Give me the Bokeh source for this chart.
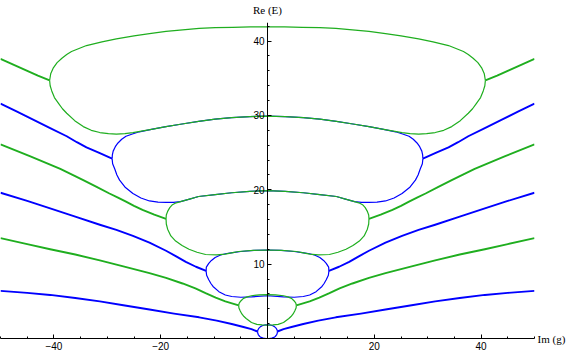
from bokeh.plotting import figure
from bokeh.models import Range1d, FixedTicker, LinearAxis
from bokeh.embed import file_html
from bokeh.resources import INLINE

# ---- data (left half, x <= 0); the chart is symmetric in Im(g) ----
# level 1 (blue)
arm1_x = [-50, -45, -40.7, -36, -31.4, -27, -22.1, -17.5, -12.8, -9.5, -6.7, -4.5, -3.0, -1.86]
arm1_y = [6.4, 6.13, 5.86, 5.45, 5.0, 4.47, 3.9, 3.35, 2.85, 2.4, 1.95, 1.55, 1.25, 0.94]
loop1_up_x = [-1.86, -1.8, -1.6, -1.3, -1.0, -0.5, 0]
loop1_up_y = [0.94, 1.15, 1.4, 1.6, 1.72, 1.82, 1.85]
loop1_lo_x = [-1.86, -1.82, -1.7, -1.45, -1.2, -0.8, -0.4, 0]
loop1_lo_y = [0.94, 0.7, 0.48, 0.27, 0.15, 0.06, 0.01, 0.0]

# level 2 (green)
arm2_x = [-50, -45, -40.7, -36, -31.4, -27, -22.1, -19, -15.9, -13.5, -11.6, -9.7, -7.9, -6.5, -5.4]
arm2_y = [13.5, 12.7, 12.0, 11.3, 10.5, 9.7, 8.8, 8.15, 7.4, 6.75, 6.1, 5.5, 5.0, 4.7, 4.45]
loop2_up_x = [-5.4, -5.3, -5.0, -4.5, -3.8, -3.0, -1.5, 0]
loop2_up_y = [4.45, 4.75, 5.05, 5.4, 5.6, 5.75, 5.88, 5.9]
loop2_lo_x = [-5.4, -5.35, -5.1, -4.8, -4.4, -4.0, -3.0, -2.0, -1.0, 0]
loop2_lo_y = [4.45, 4.1, 3.7, 3.3, 2.95, 2.7, 2.15, 1.9, 1.82, 1.8]

# level 3 (blue)
arm3_x = [-50, -45, -40.7, -36, -31.4, -28.3, -25.2, -22.1, -19.0, -17.1, -15.3, -13.4, -11.5]
arm3_y = [19.6, 18.5, 17.5, 16.4, 15.3, 14.6, 13.8, 12.9, 11.8, 11.05, 10.3, 9.65, 9.1]
loop3_up_x = [-11.5, -11.45, -11.0, -10.5, -9.8, -8.9, -7.9, -6.5, -5.0, -2.5, 0]
loop3_up_y = [9.1, 9.6, 10.1, 10.5, 10.9, 11.2, 11.4, 11.55, 11.7, 11.85, 11.9]
loop3_lo_x = [-11.5, -11.4, -11.0, -10.6, -10.2, -9.1, -7.9, -6.7, -5.0, -3.0, 0]
loop3_lo_y = [9.1, 8.5, 7.9, 7.4, 7.0, 6.3, 5.85, 5.65, 5.55, 5.6, 5.75]

# level 4 (green)
arm4_x = [-50, -44.4, -38.8, -36.6, -34.5, -32, -29.6, -28, -26.5, -25, -23.4, -21.2, -19.0]
arm4_y = [26.1, 24.5, 22.8, 22.05, 21.3, 20.4, 19.5, 18.95, 18.4, 17.85, 17.3, 16.65, 16.1]
loop4_up_x = [-19.0, -18.95, -18.7, -18.3, -17.8, -17.1, -16.3, -14.6, -12.9, -9.8, -6.7, -3.3, 0]
loop4_up_y = [16.1, 16.6, 17.1, 17.6, 18.0, 18.25, 18.4, 18.75, 19.1, 19.35, 19.6, 19.8, 19.9]
loop4_lo_x = [-19.0, -18.95, -18.7, -18.1, -17.2, -16.0, -14.7, -13.2, -11.6, -9.5, -7.9, -6.5, -5.4, -2.7, 0]
loop4_lo_y = [16.1, 15.4, 14.7, 13.8, 13.1, 12.5, 12.0, 11.6, 11.3, 11.25, 11.35, 11.55, 11.7, 11.85, 11.9]

# level 5 (blue)
arm5_x = [-50, -46.9, -43.8, -40.7, -37.6, -35.7, -33.9, -31.5, -29.1]
arm5_y = [31.6, 30.5, 29.4, 28.3, 27.2, 26.4, 25.7, 24.95, 24.2]
loop5_up_x = [-29.1, -29.05, -28.9, -28.5, -28.0, -27.3, -26.5, -25.3, -24.0, -21.5, -19.0, -16.0, -12.9, -9.8, -6.7, -3.3, 0]
loop5_up_y = [24.2, 24.7, 25.2, 25.8, 26.3, 26.8, 27.2, 27.5, 27.8, 28.15, 28.5, 28.85, 29.2, 29.5, 29.7, 29.85, 29.9]
loop5_lo_x = [-29.1, -29.0, -28.6, -28.2, -27.7, -26.6, -25.2, -23.7, -22.1, -20.5, -19.0, -17.6, -16.3, -14.6, -12.9, -9.8, -6.7, -3.3, 0]
loop5_lo_y = [24.2, 23.5, 22.8, 22.0, 21.3, 20.3, 19.5, 18.9, 18.5, 18.35, 18.3, 18.3, 18.4, 18.75, 19.1, 19.35, 19.6, 19.8, 19.9]

# level 6 (green)
arm6_x = [-50, -47.6, -45.3, -43.0, -40.8]
arm6_y = [37.6, 36.85, 36.1, 35.35, 34.7]
loop6_up_x = [-40.8, -40.6, -40.1, -39.4, -38.5, -37.6, -36.7, -35.3, -33.9, -31.0, -28.3, -25.0, -22.1, -19.0, -15.9, -12.8, -9.8, -6.5, -3.2, 0]
loop6_up_y = [34.7, 35.6, 36.4, 37.1, 37.7, 38.2, 38.6, 39.0, 39.4, 39.9, 40.3, 40.7, 41.0, 41.3, 41.5, 41.7, 41.8, 41.85, 41.9, 41.9]
loop6_lo_x = [-40.8, -40.7, -40.4, -39.9, -39.1, -38.4, -37.6, -36.1, -34.5, -33.0, -31.4, -29.8, -28.3, -26.7, -25.2, -22.0, -19.0, -16.0, -12.9, -9.8, -6.7, -3.3, 0]
loop6_lo_y = [34.7, 34.0, 33.3, 32.4, 31.6, 30.9, 30.3, 29.3, 28.5, 28.0, 27.7, 27.55, 27.5, 27.55, 27.7, 28.1, 28.5, 28.85, 29.2, 29.5, 29.7, 29.85, 29.9]

x_ticks = [-40, -20, 20, 40]
x_minor = [-50, -45, -35, -30, -25, -15, -10, -5, 0, 5, 10, 15, 25, 30, 35, 45, 50]
y_ticks = [10, 20, 30, 40]
y_minor = [2, 4, 6, 8, 12, 14, 16, 18, 22, 24, 26, 28, 32, 34, 36, 38, 42]
x_axis_name = "Im (g)"
y_axis_name = "Re (E)"

BLUE = "#0000ff"
GREEN = "#1fae1f"


def full_arc(xs, ys):
    # left half + mirrored right half (chart is symmetric about Im(g)=0)
    rx = [-v for v in reversed(xs[:-1])]
    ry = list(reversed(ys[:-1]))
    return list(xs) + rx, list(ys) + ry


def right_arm(xs, ys):
    return [-v for v in xs], list(ys)


p = figure(width=568, height=352, x_range=Range1d(-50, 50), y_range=Range1d(0, 42.5),
           output_backend="svg", toolbar_location=None,
           min_border_left=0, min_border_right=33, min_border_top=20, min_border_bottom=13)
p.grid.visible = False
p.outline_line_color = None

levels = [
    (BLUE, arm1_x, arm1_y, loop1_up_x, loop1_up_y, loop1_lo_x, loop1_lo_y),
    (BLUE, arm3_x, arm3_y, loop3_up_x, loop3_up_y, loop3_lo_x, loop3_lo_y),
    (BLUE, arm5_x, arm5_y, loop5_up_x, loop5_up_y, loop5_lo_x, loop5_lo_y),
    (GREEN, arm2_x, arm2_y, loop2_up_x, loop2_up_y, loop2_lo_x, loop2_lo_y),
    (GREEN, arm4_x, arm4_y, loop4_up_x, loop4_up_y, loop4_lo_x, loop4_lo_y),
    (GREEN, arm6_x, arm6_y, loop6_up_x, loop6_up_y, loop6_lo_x, loop6_lo_y),
]

for color, ax, ay, ux, uy, lx, ly in levels:
    p.line(ax, ay, line_color=color, line_width=1.9, line_join="round")
    rx, ry = right_arm(ax, ay)
    p.line(rx, ry, line_color=color, line_width=1.9, line_join="round")
    fx, fy = full_arc(ux, uy)
    p.line(fx, fy, line_color=color, line_width=1.2, line_join="round")
    fx, fy = full_arc(lx, ly)
    p.line(fx, fy, line_color=color, line_width=1.2, line_join="round")

# axes, Mathematica style: crossing at the origin
xa = p.xaxis[0]
xa.ticker = FixedTicker(ticks=x_ticks, minor_ticks=x_minor)
xa.major_label_overrides = {-40: "\u221240", -20: "\u221220", 20: "20", 40: "40"}
ya = p.yaxis[0]
ya.ticker = FixedTicker(ticks=y_ticks, minor_ticks=y_minor)
ya.fixed_location = 0
for a in (xa, ya):
    a.axis_line_color = "black"
    a.axis_line_width = 1
    a.major_tick_in = 4
    a.major_tick_out = 0
    a.minor_tick_in = 2
    a.minor_tick_out = 0
    a.major_tick_line_color = "black"
    a.minor_tick_line_color = "black"
    a.major_label_text_font = "Liberation Sans"
    a.major_label_text_font_size = "10px"
    a.major_label_text_color = "black"
    a.major_label_standoff = 3

# axis names placed at the ends of the axes (as tick labels of helper axes)
top_ax = LinearAxis(ticker=FixedTicker(ticks=[0], minor_ticks=[]),
                    major_label_overrides={0: y_axis_name})
right_ax = LinearAxis(ticker=FixedTicker(ticks=[0], minor_ticks=[]),
                      major_label_overrides={0: x_axis_name})
for a in (top_ax, right_ax):
    a.axis_line_color = None
    a.major_tick_line_color = None
    a.minor_tick_line_color = None
    a.major_tick_out = 0
    a.major_tick_in = 0
    a.major_label_text_font = "Liberation Serif"
    a.major_label_text_font_size = "11px"
    a.major_label_text_color = "black"
top_ax.major_label_standoff = 7
right_ax.major_label_standoff = 3
p.add_layout(top_ax, "above")
p.add_layout(right_ax, "right")

open("out.html", "w").write(file_html(p, INLINE))
